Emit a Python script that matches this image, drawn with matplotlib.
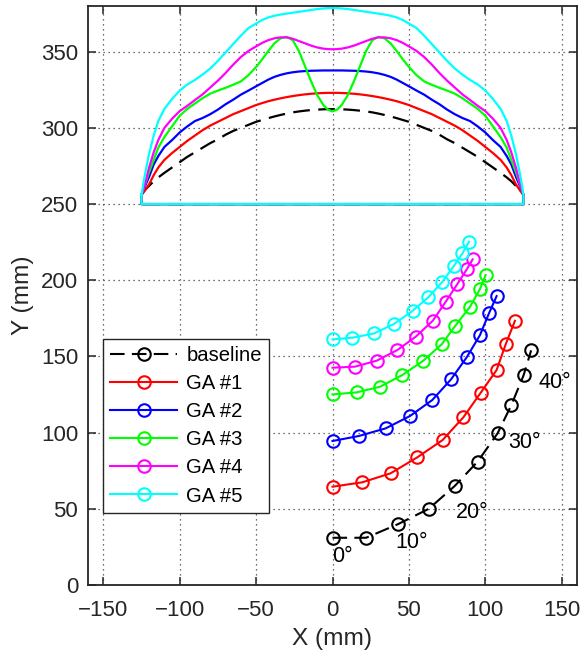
import numpy as np
import matplotlib
matplotlib.use('Agg')
import matplotlib.pyplot as plt

plt.rcParams['font.family'] = ['Liberation Sans', 'DejaVu Sans']

# half cross-section profiles (left half, mirrored about x = 0), mm
x_half = [-125, -123, -120, -117, -114, -110, -105, -100, -95, -90, -85, -80, -75, -70,
          -65, -60, -55, -50, -46, -42, -38, -34, -30, -26, -22, -18, -14, -10, -6, -3, 0]
base_prof = [256, 259, 262, 265, 267.5, 270.5, 274, 277.5, 281, 284, 287, 290, 292.5, 295.5,
             298, 300, 302, 304, 305.2, 306.4, 307.5, 308.5, 309.4, 310.2, 310.8, 311.3, 311.7,
             312, 312.2, 312.3, 312.3]
ga1_prof = [256, 258.5, 263, 269, 274, 279, 283.5, 287.5, 291.5, 295, 298.5, 301.5, 304, 306.5,
            309, 311, 313, 315, 316.3, 317.5, 318.5, 319.4, 320.2, 320.9, 321.5, 322, 322.4,
            322.7, 322.9, 323, 323]
ga2_prof = [256, 261, 268, 276, 281.5, 287.5, 292, 297, 301, 304.5, 306.5, 309, 312, 315.5,
            318.5, 321.8, 324.5, 327.3, 329.5, 331.7, 333.5, 334.8, 335.8, 336.5, 337, 337.3,
            337.5, 337.6, 337.7, 337.7, 337.7]
ga3_prof = [256, 262, 271, 279, 287, 294, 301, 308, 312.5, 316, 319.5, 322.5, 324.5, 326.3,
            328.3, 330.5, 334.6, 340, 345, 350.5, 355.5, 358.8, 359.8, 357.5, 350.5, 340.5,
            330.5, 321.5, 315, 312, 310.8]
ga4_prof = [256, 262, 274, 284, 292, 300, 306, 311, 314.5, 318.3, 322, 326.5, 331, 336,
            341.5, 346.5, 350.5, 353.5, 355.8, 357.6, 358.8, 359.4, 359.4, 358.5, 357, 355.5,
            354, 352.8, 352, 351.7, 351.6]
ga5_prof = [256, 268, 283, 295, 304.5, 312.5, 319, 324.5, 328.5, 331.5, 335, 339, 344, 349.5,
            355, 360.5, 365.5, 368.5, 370.8, 372.5, 373.6, 374.4, 375, 375.6, 376.2, 376.8,
            377.4, 378, 378.4, 378.6, 378.7]
y_floor = 250

# corner loci, 0..45 deg in 5 deg steps
base_x = [0, 22, 43, 63, 80, 95, 108, 117, 125, 130]
base_y = [31, 31, 40, 50, 65, 81, 99.5, 118, 137.5, 154]
ga1_x = [0, 19.5, 38, 55.5, 72, 85.6, 97, 107.4, 113.3, 119.4]
ga1_y = [64.5, 67.4, 73.3, 83.8, 95.1, 110, 126.2, 141.1, 157.9, 173.4]
ga2_x = [0, 17.3, 34.8, 50.7, 65.3, 77.6, 87.8, 96.5, 102.4, 107.4]
ga2_y = [94.5, 97.8, 102.8, 110.9, 121.4, 135, 149.4, 164, 178.3, 189.6]
ga3_x = [0, 15.8, 31.1, 45.7, 59.4, 71.4, 80.2, 90, 96.5, 100.2]
ga3_y = [125.1, 126.4, 130.1, 137.8, 147.2, 157.9, 169.9, 182.6, 194.2, 203.4]
ga4_x = [0, 14.7, 28.9, 42.4, 54.4, 65.6, 74.1, 81.7, 87.8, 91.7]
ga4_y = [142.6, 143.3, 147.2, 154.2, 162.9, 173.4, 185.9, 197.5, 207.1, 213.7]
ga5_x = [0, 13, 27.2, 40.2, 52.5, 62.7, 71.9, 79.5, 85, 89.3]
ga5_y = [161.2, 162.3, 165.1, 171.3, 180, 188.8, 199, 209.5, 217.6, 225.3]

angle_labels = ['0°', '10°', '20°', '30°', '40°']
angle_lx = [0, 41, 81, 115, 135]
angle_ly = [19, 28, 47.5, 93.5, 133]

names = ['baseline', 'GA #1', 'GA #2', 'GA #3', 'GA #4', 'GA #5']
colors = ['#000000', '#ff0000', '#0000ff', '#00ff00', '#ff00ff', '#00ffff']
profiles = [base_prof, ga1_prof, ga2_prof, ga3_prof, ga4_prof, ga5_prof]
loci = [(base_x, base_y), (ga1_x, ga1_y), (ga2_x, ga2_y),
        (ga3_x, ga3_y), (ga4_x, ga4_y), (ga5_x, ga5_y)]


def closed_outline(xh, yh):
    xh = np.array(xh, dtype=float)
    yh = np.array(yh, dtype=float)
    x = np.r_[xh, -xh[-2::-1], -xh[0], xh[0], xh[0]]
    y = np.r_[yh, yh[-2::-1], y_floor, y_floor, yh[0]]
    return x, y


fig = plt.figure(figsize=(5.81, 6.61), dpi=100)
ax = fig.add_axes([88 / 581, 76 / 661, 489 / 581, 579 / 661])

handles = []
for i in range(6):
    x, y = closed_outline(x_half, profiles[i])
    if i == 0:
        ax.plot(x, y, color=colors[i], lw=1.6, dashes=(7.5, 3.8))
    else:
        ax.plot(x, y, color=colors[i], lw=1.6)
    lx, ly = loci[i]
    if i == 0:
        h, = ax.plot(lx, ly, color=colors[i], lw=1.5, dashes=(7, 3.5), marker='o', ms=9,
                     mfc='none', mew=1.5, label=names[i])
    else:
        h, = ax.plot(lx, ly, color=colors[i], lw=1.5, marker='o', ms=9,
                     mfc='none', mew=1.5, label=names[i])
    handles.append(h)

for t, tx, ty in zip(angle_labels, angle_lx, angle_ly):
    ax.text(tx, ty, t, fontsize=15.5, ha='left', va='center', color='k')

ax.set_xlim(-160, 160)
ax.set_ylim(0, 380)
ax.set_xticks(np.arange(-150, 151, 50))
ax.set_yticks(np.arange(0, 351, 50))
ax.grid(True, ls=(0, (1, 3)), color='0.25', lw=0.9)
ax.tick_params(direction='in', top=True, right=True, length=6, width=1.1,
               labelsize=16, colors='0.15')
ax.tick_params(axis='x', pad=11)
ax.tick_params(axis='y', pad=7)
for s in ax.spines.values():
    s.set_linewidth(1.3)
    s.set_color('0.15')

ax.set_xlabel('X (mm)', fontsize=17.6, color='0.15', labelpad=5)
ax.set_ylabel('Y (mm)', fontsize=17.6, color='0.15', labelpad=5)

leg = ax.legend(handles=handles, loc='lower left', bbox_to_anchor=(0.031, 0.125),
                fontsize=14.6, handlelength=3.3, labelspacing=0.45, borderpad=0.35,
                handletextpad=0.45, fancybox=False, framealpha=1, edgecolor='0.15',
                borderaxespad=0)
leg.get_frame().set_linewidth(1.0)

plt.savefig('out.png', dpi=100)
